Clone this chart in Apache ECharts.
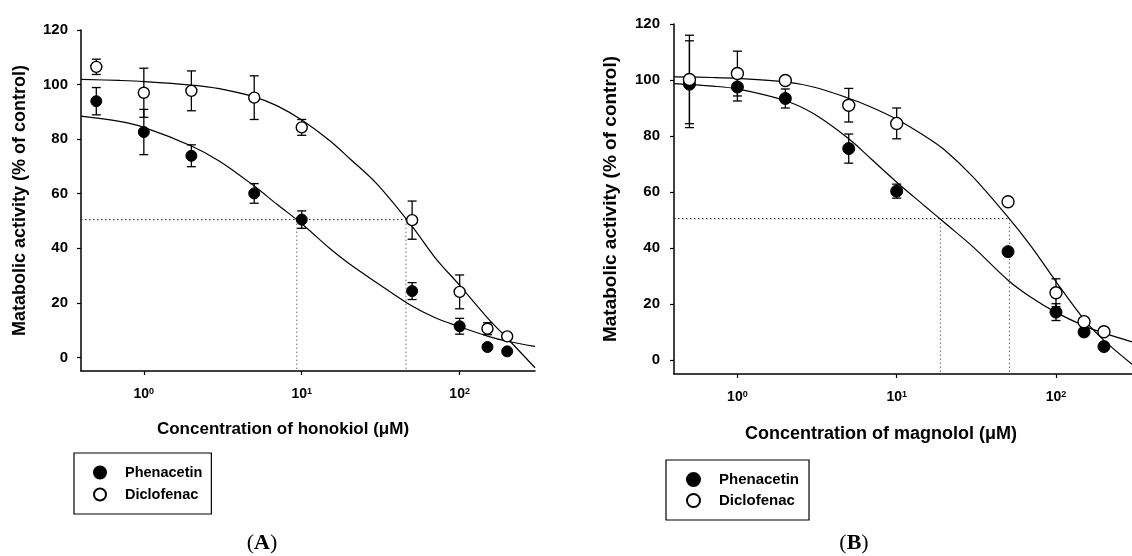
<!DOCTYPE html>
<html lang="en">
<head>
<meta charset="utf-8">
<title>Honokiol / magnolol inhibition of phenacetin and diclofenac metabolism</title>
<style>
  html, body {margin: 0; padding: 0; background: #fff;}
  #container {width: 1132px; height: 556px;}
</style>
</head>
<body>
<div id="container"></div>
<script src="https://cdn.jsdelivr.net/npm/echarts@6/dist/echarts.min.js"></script>
<script>
// concentrations tested (uM)
var conc = [0.5, 1, 2, 5, 10, 50, 100, 150, 200];

// panel A: honokiol
var phenA    = [93.9, 82.6, 73.9, 60.1, 50.5, 24.3, 11.4, 3.8, 2.2];
var phenAErr = [5.0, 8.3, 4.0, 3.6, 3.2, 3.1, 2.9, 1.2, 0.8];
var diclA    = [106.5, 97.0, 97.7, 95.2, 84.3, 50.3, 24.0, 10.5, 7.7];
var diclAErr = [2.8, 9.0, 7.3, 8.0, 2.9, 7.0, 6.2, 2.2, 1.0];

// panel B: magnolol
var phenB    = [98.5, 97.5, 93.4, 75.5, 60.3, 38.7, 17.1, 10.0, 4.8];
var phenBErr = [15.5, 5.0, 3.4, 5.2, 2.5, 1.0, 3.0, 1.2, 1.0];
var diclB    = [100.2, 102.3, 99.8, 91.0, 84.5, 56.5, 24.0, 13.7, 10.1];
var diclBErr = [15.8, 8.0, 1.0, 6.0, 5.5, 1.0, 5.0, 1.0, 1.0];

// fitted curves
var fitX      = [0.4, 0.7, 1, 2, 3, 5, 7, 10, 15, 20, 30, 50, 70, 100, 150, 200, 300];
var phenFitA  = [88.4, 86.5, 84.3, 77.5, 72, 62.8, 56, 49, 40, 34.3, 27.3, 18.8, 14.5, 11.2, 7.8, 5.9, 4.0];
var diclFitA  = [101.9, 101.5, 101.1, 99.8, 98.5, 95.5, 92.2, 87, 79.5, 73, 63.5, 48, 36.5, 26.4, 14.5, 7.0, -3.8];
var phenFitB  = [98.7, 97.8, 96.8, 92.6, 88, 79, 71.5, 63.5, 55, 49, 40.5, 28.5, 22.3, 17, 12.2, 9.6, 6.5];
var diclFitB  = [101.1, 100.9, 100.6, 99.3, 97.5, 93.5, 90.2, 86, 80, 75, 65.5, 51, 40.5, 28, 14.5, 7.0, -1.5];

// IC50 guide lines
var halfLevel = 50.5;
var ic50A = [9.3, 45.7];
var ic50B = [18.8, 51];

var xTicks = [1, 10, 100];
var yTicks = [0, 20, 40, 60, 80, 100, 120];
var xMin = 0.4, xMax = 300, yMin = -5, yMax = 120;

var font = 'Liberation Sans, Arial, sans-serif';
var seriesNames = ['Phenacetin', 'Diclofenac'];

function pairs(xs, ys) {
    return xs.map(function (x, i) { return [x, ys[i]]; });
}

function xAxisFor(idx, name, nameGap, nameSize, shift) {
    return {
        gridIndex: idx, type: 'log', logBase: 10, min: xMin, max: xMax,
        axisLine: {onZero: false, lineStyle: {color: '#000', width: 1.5}},
        axisTick: {length: 4, customValues: xTicks, lineStyle: {color: '#000', width: 1.2}},
        axisLabel: {
            customValues: xTicks, margin: 16,
            formatter: function (v) {
                return '{b|10}{s|' + Math.round(Math.log10(v)) + '}';
            },
            rich: {
                b: {fontFamily: font, fontWeight: 'bold', fontSize: 14, color: '#000'},
                s: {fontFamily: font, fontWeight: 'bold', fontSize: 9, color: '#000', verticalAlign: 'top'}
            }
        },
        splitLine: {show: false},
        name: name, nameLocation: 'middle', nameGap: nameGap,
        nameTextStyle: {fontFamily: font, fontWeight: 'bold', fontSize: nameSize, color: '#000', padding: [0, shift, 0, 0]}
    };
}

function yAxisFor(idx, nameGap, nameSize, margin) {
    return {
        gridIndex: idx, type: 'value', min: yMin, max: yMax,
        axisLine: {show: true, onZero: false, lineStyle: {color: '#000', width: 1.5}},
        axisTick: {show: true, length: 4, customValues: yTicks, lineStyle: {color: '#000', width: 1.2}},
        axisLabel: {customValues: yTicks, margin: margin, fontFamily: font, fontWeight: 'bold', fontSize: 15, color: '#000'},
        splitLine: {show: false},
        name: 'Matabolic activity (% of control)', nameLocation: 'middle', nameGap: nameGap,
        nameTextStyle: {fontFamily: font, fontWeight: 'bold', fontSize: nameSize, color: '#000'}
    };
}

function errorBars(ys, errs, idx) {
    return {
        type: 'custom', xAxisIndex: idx, yAxisIndex: idx, z: 3, silent: true,
        encode: {x: 0, y: [1, 2]},
        data: conc.map(function (c, i) { return [c, ys[i] - errs[i], ys[i] + errs[i]]; }),
        renderItem: function (params, api) {
            var lo = api.coord([api.value(0), api.value(1)]);
            var hi = api.coord([api.value(0), api.value(2)]);
            var w = 4.5;
            var st = {stroke: '#000', lineWidth: 1.3};
            return {type: 'group', children: [
                {type: 'line', shape: {x1: lo[0], y1: lo[1], x2: hi[0], y2: hi[1]}, style: st},
                {type: 'line', shape: {x1: lo[0] - w, y1: lo[1], x2: lo[0] + w, y2: lo[1]}, style: st},
                {type: 'line', shape: {x1: hi[0] - w, y1: hi[1], x2: hi[0] + w, y2: hi[1]}, style: st}
            ]};
        }
    };
}

function fitLine(ys, idx) {
    return {
        type: 'line', xAxisIndex: idx, yAxisIndex: idx, z: 2, silent: true,
        data: pairs(fitX, ys), smooth: 0.35, showSymbol: false,
        lineStyle: {color: '#000', width: 1.2}
    };
}

function guide(pts, idx, color) {
    return {
        type: 'line', xAxisIndex: idx, yAxisIndex: idx, z: 1, silent: true,
        data: pts, showSymbol: false,
        lineStyle: {color: color, width: 1, type: [1.5, 2.5]}
    };
}

function guides(ic50s, idx) {
    var out = [guide([[xMin, halfLevel], [Math.max.apply(null, ic50s), halfLevel]], idx, '#222')];
    ic50s.forEach(function (c) {
        out.push(guide([[c, halfLevel], [c, yMin]], idx, '#666'));
    });
    return out;
}

function points(name, ys, idx, filled, size) {
    return {
        type: 'scatter', name: name, xAxisIndex: idx, yAxisIndex: idx, z: 4,
        data: pairs(conc, ys), symbol: 'circle', symbolSize: size,
        emphasis: {disabled: true},
        itemStyle: filled ? {color: '#000', borderColor: '#000', borderWidth: 1, opacity: 1}
                          : {color: '#fff', borderColor: '#000', borderWidth: 1.4, opacity: 1}
    };
}

function legendAt(left, top, size, fontSize, gap, pad) {
    return {
        orient: 'vertical', left: left, top: top, data: seriesNames, selectedMode: false,
        borderColor: '#000', borderWidth: 1.2, padding: pad,
        itemWidth: size, itemHeight: size, itemGap: gap,
        textStyle: {fontFamily: font, fontWeight: 'bold', fontSize: fontSize, color: '#000', padding: [0, 0, 0, 14]}
    };
}

function panelTag(letter, x) {
    return {
        type: 'text', x: x, y: 543,
        style: {
            text: '{p|(}{l|' + letter + '}{p|)}',
            textAlign: 'center', textVerticalAlign: 'middle',
            rich: {
                p: {fontFamily: 'Liberation Serif, serif', fontSize: 22, fill: '#000'},
                l: {fontFamily: 'Liberation Serif, serif', fontSize: 22, fontWeight: 'bold', fill: '#000'}
            }
        }
    };
}

var chart = echarts.init(document.getElementById('container'), null, {renderer: 'canvas'});

var option = {
    animation: false,
    backgroundColor: '#fff',
    grid: [
        {left: 81, top: 30, width: 454, height: 341},
        {left: 674, top: 24, width: 466, height: 350}
    ],
    xAxis: [
        xAxisFor(0, 'Concentration of honokiol (μM)', 50, 17, 50),
        xAxisFor(1, 'Concentration of magnolol (μM)', 51, 18, 44)
    ],
    yAxis: [yAxisFor(0, 52, 18, 13), yAxisFor(1, 54, 19, 14)],
    legend: [
        legendAt(74, 453, 12, 14.5, 7, [12, 9, 12, 19]),
        legendAt(666, 460, 13, 15, 6, [12, 10, 12, 20])
    ],
    graphic: [panelTag('A', 262), panelTag('B', 854)],
    series: [].concat(
        guides(ic50A, 0),
        [fitLine(phenFitA, 0), fitLine(diclFitA, 0),
         errorBars(phenA, phenAErr, 0), errorBars(diclA, diclAErr, 0),
         points('Phenacetin', phenA, 0, true, 11), points('Diclofenac', diclA, 0, false, 11)],
        guides(ic50B, 1),
        [fitLine(phenFitB, 1), fitLine(diclFitB, 1),
         errorBars(phenB, phenBErr, 1), errorBars(diclB, diclBErr, 1),
         points('Phenacetin', phenB, 1, true, 12), points('Diclofenac', diclB, 1, false, 12)]
    )
};

chart.setOption(option);
</script>
</body>
</html>
